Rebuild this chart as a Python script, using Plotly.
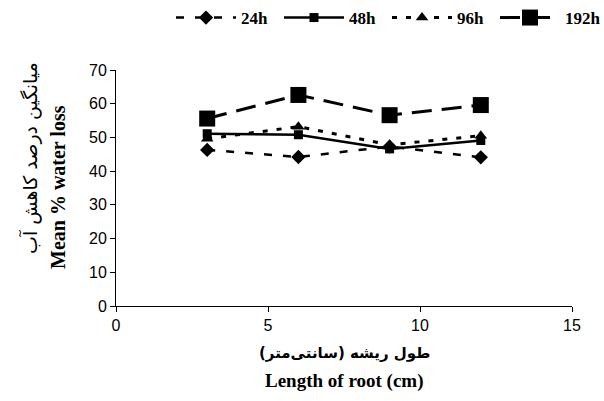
import plotly.graph_objects as go

root_len = [3, 6, 9, 12]
s24 = [46.3, 44.2, 47.3, 44.1]
s48 = [51.1, 50.8, 46.6, 49.1]
s96 = [49.6, 53.2, 47.8, 50.5]
s192 = [55.6, 62.6, 56.6, 59.6]
x_ticks = [0, 5, 10, 15]
y_ticks = [0, 10, 20, 30, 40, 50, 60, 70]

fig = go.Figure()
fig.add_trace(go.Scatter(x=root_len, y=s24, name="<b>24h</b>", mode="lines+markers",
                         line=dict(color="black", width=2.5, dash="8px,11px"),
                         marker=dict(symbol="diamond", size=11, color="black")))
fig.add_trace(go.Scatter(x=root_len, y=s48, name="<b>48h</b>", mode="lines+markers",
                         line=dict(color="black", width=2.5),
                         marker=dict(symbol="square", size=9, color="black")))
fig.add_trace(go.Scatter(x=root_len, y=s96, name="<b>96h</b>", mode="lines+markers",
                         line=dict(color="black", width=3, dash="5px,9px"),
                         marker=dict(symbol="triangle-up", size=11, color="black")))
fig.add_trace(go.Scatter(x=root_len, y=s192, name="<b>192h</b>", mode="lines+markers",
                         line=dict(color="black", width=3, dash="20px,10px"),
                         marker=dict(symbol="square", size=16, color="black")))

axis_common = dict(showline=True, linecolor="black", linewidth=1, ticks="outside",
                   ticklen=5, tickcolor="black", showgrid=False, zeroline=False,
                   tickfont=dict(family="Liberation Sans, Arial", size=16, color="black"))

fig.update_layout(
    width=604, height=401,
    margin=dict(l=116, r=32, t=70, b=95),
    plot_bgcolor="white", paper_bgcolor="white",
    showlegend=True,
    legend=dict(orientation="h", xref="container", yref="container",
                x=171 / 604, xanchor="left", y=1 - 18 / 401, yanchor="middle",
                font=dict(family="Liberation Serif, Times New Roman", size=17, color="black"),
                itemwidth=60, entrywidth=33, entrywidthmode="pixels",
                tracegroupgap=0, bgcolor="rgba(0,0,0,0)"),
    xaxis=dict(range=[0, 15], tickvals=x_ticks, **axis_common),
    yaxis=dict(range=[0, 70], tickvals=y_ticks, **axis_common),
)

fig.add_annotation(text="<b>طول ریشه (سانتی‌متر)</b>", xref="paper", yref="paper",
                   x=0.5, y=-(353 - 306) / 236, xanchor="center", yanchor="middle", showarrow=False,
                   font=dict(family="DejaVu Sans, Noto Sans", size=15, color="black"))
fig.add_annotation(text="<b>Length of root (cm)</b>", xref="paper", yref="paper",
                   x=0.5, y=-(381 - 306) / 236, xanchor="center", yanchor="middle", showarrow=False,
                   font=dict(family="Liberation Serif, Times New Roman", size=19, color="black"))
fig.add_annotation(text="میانگین درصد کاهش آب", xref="paper", yref="paper",
                   x=-(116 - 30) / 456, y=(306 - 158) / 236, xanchor="center", yanchor="middle",
                   showarrow=False, textangle=-90,
                   font=dict(family="DejaVu Sans, Noto Sans", size=19, color="black"))
fig.add_annotation(text="<b>Mean % water loss</b>", xref="paper", yref="paper",
                   x=-(116 - 58) / 456, y=(306 - 187) / 236, xanchor="center", yanchor="middle",
                   showarrow=False, textangle=-90,
                   font=dict(family="Liberation Serif, Times New Roman", size=20, color="black"))

fig.write_html("out.html", config={"displayModeBar": False},
               post_script="document.body.style.margin='0';")
